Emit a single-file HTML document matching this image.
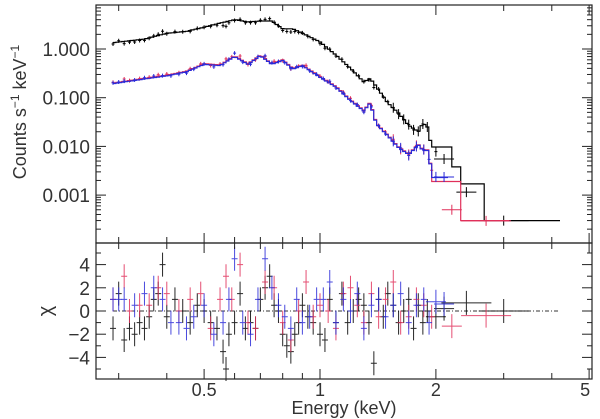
<!DOCTYPE html>
<html><head><meta charset="utf-8"><style>
html,body{margin:0;padding:0;background:#fff;}
svg{display:block;font-family:"Liberation Sans",sans-serif;}
</style></head><body>
<svg id="c" width="600" height="419" xmlns="http://www.w3.org/2000/svg"></svg>
<script>
// ---- data ----
const modelE = [0.29,0.35,0.40,0.45,0.50,0.55,0.60,0.65,0.70,0.75,0.80,0.85,0.90,1.00,1.10,1.20,1.30,1.35,1.40,1.50,1.60,1.70,1.80,1.85,1.90,1.95];
const blackModel = [1.35,1.6,2.1,2.3,2.8,3.4,4.0,3.6,3.75,3.75,2.6,2.6,2.1,1.4,0.75,0.4,0.21,0.25,0.17,0.078,0.048,0.027,0.02,0.03,0.025,0.0097];
const colorModel = [0.2,0.25,0.29,0.35,0.5,0.47,0.72,0.5,0.75,0.5,0.6,0.4,0.47,0.27,0.17,0.09,0.055,0.08,0.03,0.017,0.0097,0.007,0.011,0.0085,0.0085,0.0033];
const blackTailE = [1.95,2.2,2.32,2.67,4.2];
const blackTail = [0.0097,0.0038,0.0017,0.0003,0.0003];
const redTailE = [1.95,2.32,3.1];
const redTail = [0.0019,0.0003,0.0003];
const blueTailE = [1.95,2.15];
const blueTail = [0.0023,0.0023];
const blackResE = [0.29,0.30,0.31,0.32,0.33,0.34,0.35,0.36,0.37,0.38,0.39,0.40,0.42,0.44,0.46,0.48,0.50,0.52,0.54,0.56,0.57,0.58,0.60,0.62,0.64,0.66,0.68,0.70,0.72,0.74,0.76,0.78,0.80,0.82,0.84,0.86,0.88,0.90,0.93,0.96,1.00,1.03,1.06,1.10,1.14,1.18,1.22,1.26,1.30,1.34,1.38,1.42,1.46,1.50,1.55,1.60,1.65,1.70,1.75,1.80,1.85,1.90,2.00,2.10,2.40,3.00];
const blackRes = [-1.5,1.5,-2.5,-1.5,-2,-1,-1.5,-0.5,1,1.5,4,-0.5,1,0,-1,0.5,0,-1,-1.5,-3.5,-5,-2,-1,1.5,-1.5,-1,-1.5,1,2,3,0.5,0,-2,-3,-3.5,-2,-1,0.5,-0.5,-1,-2,-2.5,1,-1,1.5,-1,0,1,0.5,-1,-4.5,1,-0.5,1.5,0.5,-1,0,1,-1.5,0.5,-1,0,-0.5,0.2,0.7,0];
const redResE = [0.29,0.31,0.32,0.34,0.36,0.38,0.40,0.43,0.46,0.49,0.52,0.55,0.57,0.59,0.62,0.65,0.68,0.72,0.76,0.80,0.84,0.88,0.92,0.96,1.00,1.05,1.10,1.15,1.20,1.25,1.30,1.36,1.42,1.48,1.55,1.62,1.70,1.78,1.86,1.95,2.20,2.70];
const redRes = [1,3,0,0.5,0.5,2,1.5,0,1,1.5,-1.5,1,3,1,4,-1,-1.5,2.5,2,-1,-2.5,0,2.5,-0.5,0.5,0,-1.5,1.5,2,0.5,-1,1.5,-0.5,1,2.5,-1,-0.5,1,0.5,-0.5,-1.3,-0.4];
const blueResE = [0.29,0.30,0.31,0.33,0.35,0.37,0.39,0.41,0.43,0.45,0.47,0.50,0.53,0.56,0.58,0.60,0.63,0.66,0.69,0.72,0.75,0.78,0.81,0.84,0.87,0.90,0.94,0.98,1.02,1.06,1.10,1.15,1.20,1.25,1.30,1.36,1.42,1.48,1.55,1.62,1.70,1.78,1.86,1.92,2.00,2.10];
const blueRes = [1,1,1,0.5,1.5,2,1,-1,-1,-1.5,-0.5,0.5,-2,-1,1,4.5,-1,-2,1,4.5,2,0.5,-0.5,-1.5,1,-1,-0.5,1,1,2.5,-1,1,0,1.5,-1.5,0.5,1,-0.5,0.5,1.5,-1,0.5,1,-1,0.8,0.6];
const xTickLabels = ["0.5","1","2","5"];
const yTopLabels = ["1.000","0.100","0.010","0.001"];
const yBotLabels = ["4","2","0","−2","−4"];

// ---- axes ----
const L=96,R=592,T1=5,B1=243,T2=243,B2=379;
const X=e=>320+385*Math.log10(e);
const Y1=v=>49-48.7*Math.log10(v);
const Y2=c=>311-11.6*c;
const svg=document.getElementById('c');
const NS='http://www.w3.org/2000/svg';
function mk(tag,attrs,parent){const el=document.createElementNS(NS,tag);for(const k in attrs)el.setAttribute(k,attrs[k]);(parent||svg).appendChild(el);return el;}

function interp(E,V,e){if(e<=E[0])return V[0];for(let i=1;i<E.length;i++){if(e<=E[i]){const t=(Math.log(e)-Math.log(E[i-1]))/(Math.log(E[i])-Math.log(E[i-1]));return Math.exp(Math.log(V[i-1])*(1-t)+Math.log(V[i])*t);}}return V[V.length-1];}
// fine-binned step model from the data arrays
function finePath(E,M){
  const e0=E[0],e1=E[E.length-1],n=110;let d='';
  for(let i=0;i<n;i++){
    const a=e0*Math.pow(e1/e0,i/n),b=e0*Math.pow(e1/e0,(i+1)/n);
    const y=Y1(interp(E,M,Math.sqrt(a*b)));
    d+=(i==0?'M':'L')+X(a).toFixed(1)+','+y.toFixed(1)+'L'+X(b).toFixed(1)+','+y.toFixed(1);
  }
  return d;
}
function tailPath(E,V){let d='';for(let i=0;i<E.length-1;i++){d+=(i==0?'M':'L')+X(E[i]).toFixed(1)+','+Y1(V[i]).toFixed(1)+'L'+X(E[i+1]).toFixed(1)+','+Y1(V[i]).toFixed(1);}return d;}

const gTop=mk('g',{});


function drawSeries(E,M,TE,TV,resE,res,col,name){
  const p=mk('path',{d:finePath(E,M)+tailPath(TE,TV).replace(/^M/,'L'),fill:'none',stroke:col,'stroke-width':1.2},gTop);
  
  
  for(let i=0;i<resE.length;i++){
    const e=resE[i];
    const m=(e<=1.95)?interp(E,M,e):interp(TE,TV,e);
    const v=m*(1+0.04*res[i]);
    const x=X(e),y=Y1(v);
    const hw=e>2?(e>2.5?25:10):1.5, eh=e>1.5?5:2;
    const g=mk('path',{d:`M${x-hw},${y}H${x+hw}M${x},${y-eh}V${y+eh}`,stroke:col,'stroke-width':1,fill:'none'},gTop);
    
    
  }
}
drawSeries(modelE,blackModel,blackTailE,blackTail,blackResE,blackRes,'#000','black');
drawSeries(modelE,colorModel,redTailE,redTail,redResE,redRes,'#e0305a','red');
drawSeries(modelE,colorModel.map(v=>v*0.97),blueTailE,blueTail,blueResE,blueRes,'#2a2ad8','blue');

// residuals
const gBot=mk('g',{});


const zl=mk('line',{x1:X(0.29),x2:560,y1:Y2(0),y2:Y2(0),stroke:'#333','stroke-dasharray':'4,2,1,2','stroke-width':1},gBot);


function drawRes(E,C,col,name){
  for(let i=0;i<E.length;i++){
    const x=X(E[i]),y=Y2(C[i]);
    const hw=E[i]>2.3?25:(E[i]>1.95?10:3);
    const g=mk('path',{d:`M${x-hw},${y}H${x+hw}M${x},${y-12}V${y+12}`,stroke:col,'stroke-width':1,fill:'none',opacity:0.85},gBot);
    
    
  }
}
drawRes(blackResE,blackRes,'#000','black');
drawRes(redResE,redRes,'#e0305a','red');
drawRes(blueResE,blueRes,'#2a2ad8','blue');

for(const [t,b,n] of [[T1,B1,'top-frame'],[T2,B2,'bottom-frame']]){
  const r=mk('rect',{x:L,y:t,width:R-L,height:b-t,fill:'none',stroke:'#222','stroke-width':1.2});
  
  
}
const ax=mk('g',{stroke:'#222','stroke-width':1});


const minorE=[0.3,0.4,0.6,0.7,0.8,0.9,3,4];
const majorE=[0.5,1,2,5];
for(const e of minorE.concat(majorE)){
  const x=X(e),len=majorE.includes(e)?10:6;
  for(const [t,b] of [[T1,B1],[T2,B2]]){mk('line',{x1:x,x2:x,y1:t,y2:t+len},ax);mk('line',{x1:x,x2:x,y1:b,y2:b-len},ax);}
}
for(let d=-4;d<=0;d++){
  for(let k=1;k<10;k++){
    const v=k*Math.pow(10,d),y=Y1(v);
    if(y<T1||y>B1)continue;
    const len=k==1?10:5;
    mk('line',{x1:L,x2:L+len,y1:y,y2:y},ax);mk('line',{x1:R,x2:R-len,y1:y,y2:y},ax);
  }
}
for(let c=-5;c<=5;c++){const y=Y2(c),len=c%2==0?10:5;mk('line',{x1:L,x2:L+len,y1:y,y2:y},ax);mk('line',{x1:R,x2:R-len,y1:y,y2:y},ax);}

const txt=(s,x,y,anchor,size,name,extra)=>{const t=mk('text',Object.assign({x:x,y:y,'text-anchor':anchor,'font-size':size,fill:'#333'},extra||{}));t.textContent=s;return t;};
[0.5,1,2,5].forEach((e,i)=>txt(xTickLabels[i],X(e)-(e==5?4:0),396,'middle',18,'x-tick-label'));
[1,0.1,0.01,0.001].forEach((v,i)=>txt(yTopLabels[i],90,Y1(v)+7,'end',19,'y-tick-label'));
[4,2,0,-2,-4].forEach((c,i)=>txt(yBotLabels[i],90,Y2(c)+7,'end',19,'residual-tick-label'));
txt('Energy (keV)',344,414,'middle',18,'x-axis-title');
const yt=txt('',26,112,'middle',18,'y-axis-title',{transform:'rotate(-90 26 112)'});
yt.innerHTML='Counts s<tspan dy="-7" font-size="12">−1</tspan><tspan dy="7"> keV</tspan><tspan dy="-7" font-size="12">−1</tspan>';
txt('χ',46,317,'middle',20,'residual-axis-title',{transform:'rotate(-90 46 311)'});
</script>
</body></html>
